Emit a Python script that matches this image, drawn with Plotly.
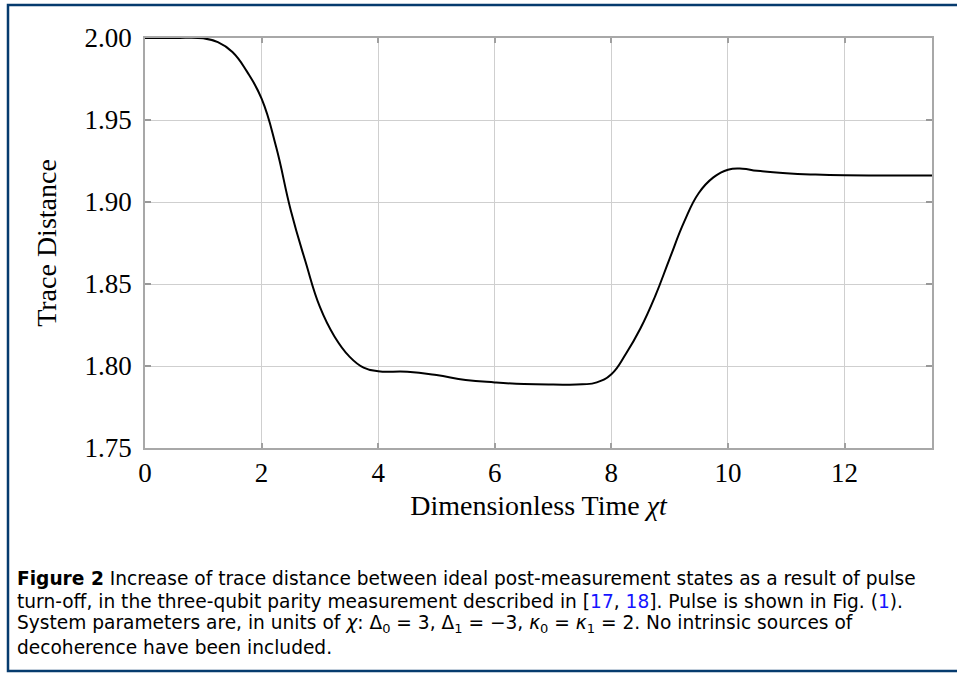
import plotly.graph_objects as go

# Data
time_values = [0, 0.5, 1.0, 1.25, 1.5, 1.75, 2.0, 2.25, 2.5, 2.75, 3.0, 3.25, 3.5, 3.75,
               4.0, 4.5, 5.0, 5.5, 6.0, 6.5, 7.0, 7.5, 7.75, 8.0, 8.25, 8.5, 8.75, 9.0,
               9.25, 9.5, 9.75, 10.0, 10.25, 10.5, 11.0, 11.5, 12.0, 13.0, 13.5]
trace_distance = [2.000, 2.000, 1.9998, 1.9975, 1.9915, 1.9795, 1.9630, 1.9335, 1.8950,
                  1.8640, 1.8360, 1.8180, 1.8060, 1.7990, 1.7968, 1.7965, 1.7945, 1.7915,
                  1.7900, 1.7890, 1.7887, 1.7888, 1.7900, 1.7950, 1.8075, 1.8230, 1.8425,
                  1.8655, 1.8880, 1.9055, 1.9150, 1.9197, 1.9203, 1.9190, 1.9175, 1.9167,
                  1.9163, 1.9162, 1.9162]
x_ticks = [0, 2, 4, 6, 8, 10, 12]
y_ticks = [1.75, 1.80, 1.85, 1.90, 1.95, 2.00]
y_tick_labels = ["1.75", "1.80", "1.85", "1.90", "1.95", "2.00"]

caption_lines = [
    "<b>Figure 2</b> Increase of trace distance between ideal post-measurement states as a result of pulse",
    "turn-off, in the three-qubit parity measurement described in [<span style='color:#1515ff'>17</span>, "
    "<span style='color:#1515ff'>18</span>]. Pulse is shown in Fig. (<span style='color:#1515ff'>1</span>).",
    "System parameters are, in units of <i>χ</i>: Δ<sub>0</sub> = 3, Δ<sub>1</sub> = −3, "
    "<i>κ</i><sub>0</sub> = <i>κ</i><sub>1</sub> = 2. No intrinsic sources of",
    "decoherence have been included.",
]
caption_line_y = [578, 601, 624, 647]

serif = "Liberation Serif, Times New Roman, serif"
sans = "DejaVu Sans, Liberation Sans, Arial, sans-serif"

fig = go.Figure()
fig.add_trace(go.Scatter(
    x=time_values, y=trace_distance, mode="lines",
    line=dict(color="black", width=2, shape="spline", smoothing=1.3),
    showlegend=False, hoverinfo="skip"))

L, R, T, B = 145, 25, 38, 225
W, H = 957, 673
pw, ph = W - L - R, H - T - B

def px(x):
    return (x - L) / pw

def py(y):
    return (H - B - y) / ph

annotations = []
for line_text, yc in zip(caption_lines, caption_line_y):
    annotations.append(dict(text=line_text, xref="paper", yref="paper",
                            x=px(15), y=py(yc), xanchor="left", yanchor="middle",
                            align="left", showarrow=False,
                            font=dict(family=sans, size=18.6, color="black")))

fig.update_layout(
    width=W, height=H,
    margin=dict(l=L, r=R, t=T, b=B),
    paper_bgcolor="white", plot_bgcolor="white",
    font=dict(family=serif, color="black"),
    xaxis=dict(
        range=[0, 13.5], tickvals=x_ticks, ticktext=[str(v) for v in x_ticks],
        showgrid=True, gridcolor="#cfcfcf", gridwidth=1,
        showline=True, linecolor="#a8a8a8", linewidth=1.5, mirror="ticks",
        ticks="inside", ticklen=5, tickcolor="#a0a0a0", tickwidth=1.5,
        tickfont=dict(family=serif, size=27, color="black"),
        zeroline=False,
        title=dict(text="Dimensionless Time <i>χt</i>", font=dict(family=serif, size=28),
                   standoff=8),
    ),
    yaxis=dict(
        range=[1.75, 2.00], tickvals=y_ticks, ticktext=y_tick_labels,
        showgrid=True, gridcolor="#cfcfcf", gridwidth=1,
        showline=True, linecolor="#a8a8a8", linewidth=1.5, mirror="ticks",
        ticks="inside", ticklen=6, tickcolor="#999999", tickwidth=1.5,
        ticklabelstandoff=6,
        tickfont=dict(family=serif, size=27, color="black"),
        zeroline=False,
        title=dict(text="Trace Distance", font=dict(family=serif, size=28), standoff=20),
    ),
    shapes=[dict(type="rect", xref="paper", yref="paper",
                 x0=px(8), x1=px(990), y0=py(5), y1=py(671),
                 line=dict(color="#063b6e", width=2.5), fillcolor="rgba(0,0,0,0)",
                 layer="below")],
    annotations=annotations,
)

fig.write_html("out.html", config={"displayModeBar": False},
               post_script="document.body.style.margin='0';")
